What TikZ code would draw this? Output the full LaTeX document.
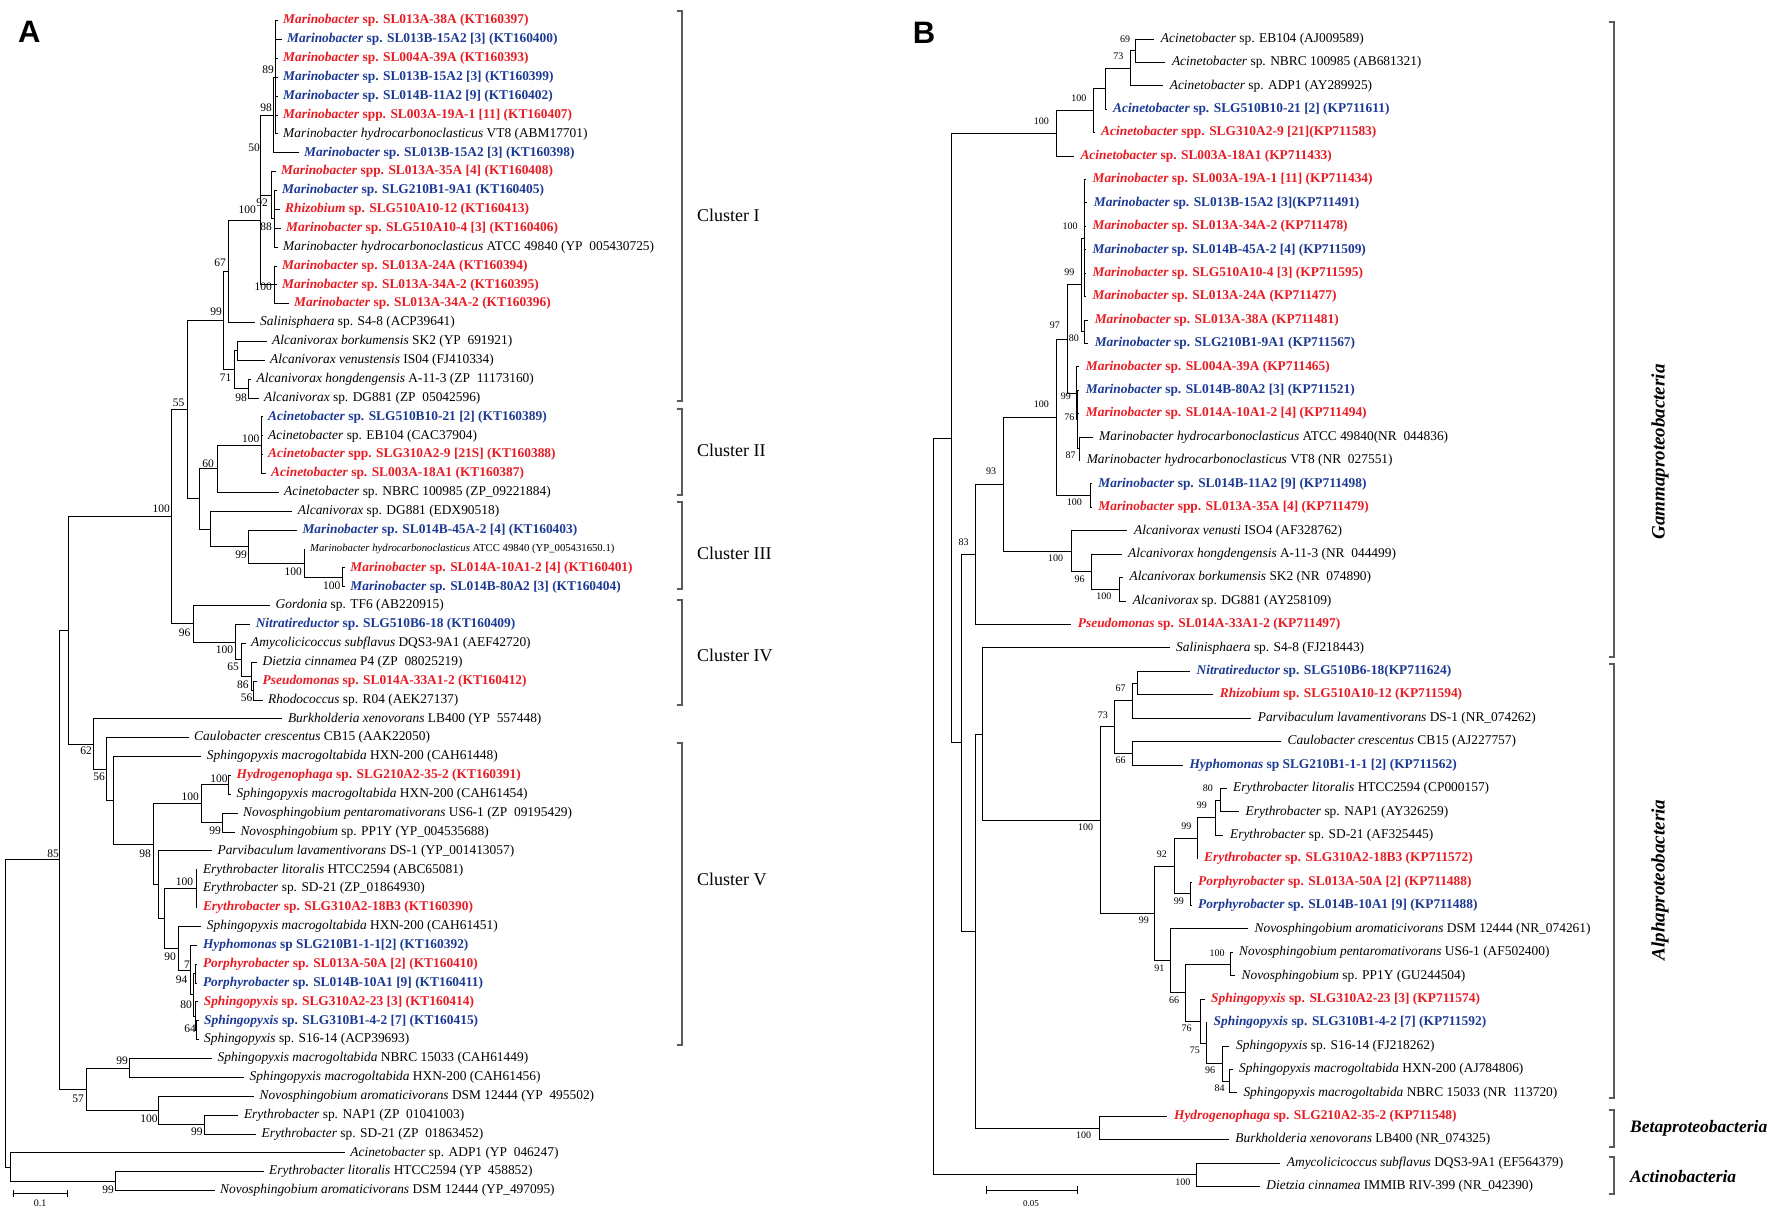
\documentclass[tikz,border=0pt]{standalone}
\usepackage{fontspec}
\setmainfont{Liberation Serif}
\newfontfamily\lsans{Liberation Sans}
\usetikzlibrary{calc}
\definecolor{cr}{RGB}{232,28,36}
\definecolor{cb}{RGB}{28,58,148}
\definecolor{brkc}{RGB}{90,90,90}
\newcommand\txfont{\fontsize{13.4}{16}\selectfont}
\newcommand\smfont{\fontsize{10.7}{12}\selectfont}
\newcommand\bsAfont{\fontsize{11.5}{12}\selectfont}
\newcommand\bsBfont{\fontsize{10}{11}\selectfont}
\newcounter{bsn}
\tikzset{
  br/.style={line width=1pt,line cap=rect},
  brk/.style={line width=1.1pt,draw=brkc},
  tx/.style={anchor=west,inner sep=0pt,font=\txfont},
  bsA/.style={anchor=east,inner sep=0pt,font=\bsAfont},
  bsB/.style={anchor=east,inner sep=0pt,font=\bsBfont},
  clab/.style={anchor=west,inner sep=0pt,font=\fontsize{18}{20}\selectfont},
  plab/.style={inner sep=0pt,font=\lsans\bfseries\fontsize{31}{32}\selectfont},
}
% taxon, black
\newcommand\tk[5]{\coordinate (#1) at ({#2-\gap},{\ry{#3}});
  \node[tx] (#1l) at (#2,{\ry{#3}}) {\textit{#4} #5};}
% taxon, coloured bold
\newcommand\tc[6]{\coordinate (#1) at ({#2-\gap},{\ry{#3}});
  \node[tx,text=#4,font=\txfont\bfseries] (#1l) at (#2,{\ry{#3}}) {\textit{#5} #6};}
% internal node: name, x, first child, last child
\newcommand\nd[4]{%
  \path let \p1=(#3), \p2=(#4) in (#2pt,{0.5*(\y1+\y2)}) coordinate (#1);
  \draw[br] (#1 |- #3) -- (#1 |- #4);
  \draw[br] (#1 |- #3) -- (#3);
  \draw[br] (#1 |- #4) -- (#4);}
% extra (middle) child
\newcommand\brc[2]{\draw[br] (#1 |- #2) -- (#2);}
\newcommand\bsa[3]{\stepcounter{bsn}\node[bsA] (bs\thebsn) at (#1,#2) {#3};}
\newcommand\bsb[3]{\stepcounter{bsn}\node[bsB] (bs\thebsn) at (#1,#2) {#3};}
\newcommand\brk[3]{\draw[brk] ({#1-5},#2) -- (#1,#2) -- (#1,#3) -- ({#1-5},#3);}
\begin{document}
\begin{tikzpicture}[x=1pt,y=-1pt]
\useasboundingbox (0,0) rectangle (1772,1213);
\fill[white] (0,0) rectangle (1772,1213);
%================ PANEL A =================
\node[plab] (pA) at (29.3,32.3) {A};
\def\ry#1{20.7+(#1-1)*18.87}\def\gap{6}
\tc{a1}{283}{1}{cr}{Marinobacter}{sp. SL013A-38A (KT160397)}
\tc{a2}{287}{2}{cb}{Marinobacter}{sp. SL013B-15A2 [3] (KT160400)}
\tc{a3}{283}{3}{cr}{Marinobacter}{sp. SL004A-39A (KT160393)}
\tc{a4}{283}{4}{cb}{Marinobacter}{sp. SL013B-15A2 [3] (KT160399)}
\tc{a5}{283}{5}{cb}{Marinobacter}{sp. SL014B-11A2 [9] (KT160402)}
\tc{a6}{283}{6}{cr}{Marinobacter}{spp. SL003A-19A-1 [11] (KT160407)}
\tk{a7}{283}{7}{Marinobacter hydrocarbonoclasticus}{VT8 (ABM17701)}
\tc{a8}{304}{8}{cb}{Marinobacter}{sp. SL013B-15A2 [3] (KT160398)}
\tc{a9}{281}{9}{cr}{Marinobacter}{spp. SL013A-35A [4] (KT160408)}
\tc{a10}{282}{10}{cb}{Marinobacter}{sp. SLG210B1-9A1 (KT160405)}
\tc{a11}{285}{11}{cr}{Rhizobium}{sp. SLG510A10-12 (KT160413)}
\tc{a12}{286}{12}{cr}{Marinobacter}{sp. SLG510A10-4 [3] (KT160406)}
\tk{a13}{283}{13}{Marinobacter hydrocarbonoclasticus}{ATCC 49840 (YP\ \ 005430725)}
\tc{a14}{282}{14}{cr}{Marinobacter}{sp. SL013A-24A (KT160394)}
\tc{a15}{282}{15}{cr}{Marinobacter}{sp. SL013A-34A-2 (KT160395)}
\tc{a16}{294}{16}{cr}{Marinobacter}{sp. SL013A-34A-2 (KT160396)}
\tk{a17}{260}{17}{Salinisphaera}{sp. S4-8 (ACP39641)}
\tk{a18}{272}{18}{Alcanivorax borkumensis}{SK2 (YP\ \ 691921)}
\tk{a19}{270}{19}{Alcanivorax venustensis}{IS04 (FJ410334)}
\tk{a20}{256.4}{20}{Alcanivorax hongdengensis}{A-11-3 (ZP\ \ 11173160)}
\tk{a21}{264}{21}{Alcanivorax}{sp. DG881 (ZP\ \ 05042596)}
\tc{a22}{268}{22}{cb}{Acinetobacter}{sp. SLG510B10-21 [2] (KT160389)}
\tk{a23}{268}{23}{Acinetobacter}{sp. EB104 (CAC37904)}
\tc{a24}{268}{24}{cr}{Acinetobacter}{spp. SLG310A2-9 [21S] (KT160388)}
\tc{a25}{271}{25}{cr}{Acinetobacter}{sp. SL003A-18A1 (KT160387)}
\tk{a26}{284}{26}{Acinetobacter}{sp. NBRC 100985 (ZP\_09221884)}
\tk{a27}{297.7}{27}{Alcanivorax}{sp. DG881 (EDX90518)}
\tc{a28}{302.3}{28}{cb}{Marinobacter}{sp. SL014B-45A-2 [4] (KT160403)}
\coordinate (a29) at (304,{\ry{29}});
\node[tx,font=\smfont] (a29l) at (310,{\ry{29}}) {\textit{Marinobacter hydrocarbonoclasticus} ATCC 49840 (YP\_005431650.1)};
\tc{a30}{350.2}{30}{cr}{Marinobacter}{sp. SL014A-10A1-2 [4] (KT160401)}
\tc{a31}{350.2}{31}{cb}{Marinobacter}{sp. SL014B-80A2 [3] (KT160404)}
\tk{a32}{275.5}{32}{Gordonia}{sp. TF6 (AB220915)}
\tc{a33}{255.6}{33}{cb}{Nitratireductor}{sp. SLG510B6-18 (KT160409)}
\tk{a34}{251}{34}{Amycolicicoccus subflavus}{DQS3-9A1 (AEF42720)}
\tk{a35}{262.5}{35}{Dietzia cinnamea}{P4 (ZP\ \ 08025219)}
\tc{a36}{262.5}{36}{cr}{Pseudomonas}{sp. SL014A-33A1-2 (KT160412)}
\tk{a37}{268}{37}{Rhodococcus}{sp. R04 (AEK27137)}
\tk{a38}{287.8}{38}{Burkholderia xenovorans}{LB400 (YP\ \ 557448)}
\tk{a39}{194}{39}{Caulobacter crescentus}{CB15 (AAK22050)}
\tk{a40}{206.7}{40}{Sphingopyxis macrogoltabida}{HXN-200 (CAH61448)}
\tc{a41}{236.5}{41}{cr}{Hydrogenophaga}{sp. SLG210A2-35-2 (KT160391)}
\tk{a42}{236.5}{42}{Sphingopyxis macrogoltabida}{HXN-200 (CAH61454)}
\tk{a43}{243}{43}{Novosphingobium pentaromativorans}{US6-1 (ZP\ \ 09195429)}
\tk{a44}{240.3}{44}{Novosphingobium}{sp. PP1Y (YP\_004535688)}
\tk{a45}{217.4}{45}{Parvibaculum lavamentivorans}{DS-1 (YP\_001413057)}
\tk{a46}{202.8}{46}{Erythrobacter litoralis}{HTCC2594 (ABC65081)}
\tk{a47}{202.8}{47}{Erythrobacter}{sp. SD-21 (ZP\_01864930)}
\tc{a48}{202.8}{48}{cr}{Erythrobacter}{sp. SLG310A2-18B3 (KT160390)}
\tk{a49}{206.7}{49}{Sphingopyxis macrogoltabida}{HXN-200 (CAH61451)}
\tc{a50}{202.8}{50}{cb}{Hyphomonas}{sp SLG210B1-1-1[2] (KT160392)}
\tc{a51}{202.8}{51}{cr}{Porphyrobacter}{sp. SL013A-50A [2] (KT160410)}
\tc{a52}{202.8}{52}{cb}{Porphyrobacter}{sp. SL014B-10A1 [9] (KT160411)}
\tc{a53}{203.6}{53}{cr}{Sphingopyxis}{sp. SLG310A2-23 [3] (KT160414)}
\tc{a54}{204}{54}{cb}{Sphingopyxis}{sp. SLG310B1-4-2 [7] (KT160415)}
\tk{a55}{204}{55}{Sphingopyxis}{sp. S16-14 (ACP39693)}
\tk{a56}{217.4}{56}{Sphingopyxis macrogoltabida}{NBRC 15033 (CAH61449)}
\tk{a57}{249.5}{57}{Sphingopyxis macrogoltabida}{HXN-200 (CAH61456)}
\tk{a58}{259.5}{58}{Novosphingobium aromaticivorans}{DSM 12444 (YP\ \ 495502)}
\tk{a59}{243.8}{59}{Erythrobacter}{sp. NAP1 (ZP\ \ 01041003)}
\tk{a60}{261.4}{60}{Erythrobacter}{sp. SD-21 (ZP\ \ 01863452)}
\tk{a61}{350.2}{61}{Acinetobacter}{sp. ADP1 (YP\ \ 046247)}
\tk{a62}{269}{62}{Erythrobacter litoralis}{HTCC2594 (YP\ \ 458852)}
\tk{a63}{220}{63}{Novosphingobium aromaticivorans}{DSM 12444 (YP\_497095)}
% internal nodes A
\nd{c89}{275.5}{a1}{a7}\brc{c89}{a2}\brc{c89}{a3}\brc{c89}{a4}\brc{c89}{a5}\brc{c89}{a6}
\nd{n98}{273.6}{c89}{a8}
\nd{n88}{274.8}{a10}{a13}\brc{n88}{a11}\brc{n88}{a12}
\nd{n92}{271}{a9}{n88}
\nd{n50}{260}{n98}{n92}
\nd{c14}{274.8}{a14}{a16}\brc{c14}{a15}
\nd{nX}{260}{n50}{c14}
\nd{n67}{228.5}{nX}{a17}
\nd{n1819}{237}{a18}{a19}
\nd{n2021}{248.8}{a20}{a21}
\nd{n71}{234}{n1819}{n2021}
\nd{n99}{223}{n67}{n71}
\nd{nac}{261.5}{a22}{a25}\brc{nac}{a23}\brc{nac}{a24}
\nd{n60}{217}{nac}{a26}
\nd{n3031}{342.5}{a30}{a31}
\nd{n100b}{304}{a29}{n3031}
\nd{n99c}{248.8}{a28}{n100b}
\nd{nc3}{210.5}{a27}{n99c}
\nd{nY}{199}{n60}{nc3}
\nd{n55}{187}{n99}{nY}
\nd{n56}{253}{a36}{a37}
\nd{n86}{251.8}{a35}{n56}
\nd{n65}{241.9}{a34}{n86}
\nd{n100d}{235.4}{a33}{n65}
\nd{n96}{193}{a32}{n100d}
\nd{nbig}{171}{n55}{n96}
\nd{n100f}{228.9}{a41}{a42}
\nd{n99f}{222}{a43}{a44}
\nd{n100e}{201}{n100f}{n99f}
\nd{n100g}{196}{a46}{a48}\brc{n100g}{a47}
\nd{nN}{196}{a54}{a55}
\nd{nM}{195.2}{a53}{nN}
\nd{nL}{195.2}{a51}{a52}
\nd{nK}{193}{nL}{nM}
\nd{nJ}{190.2}{a50}{nK}
\nd{n90}{178}{a49}{nJ}
\nd{nH}{164.6}{n100g}{n90}
\nd{nG}{158.8}{a45}{nH}
\nd{n98e}{153}{n100e}{nG}
\nd{n113}{113}{a40}{n98e}
\nd{n56b}{106}{a39}{n113}
\nd{n62}{93}{a38}{n56b}
\nd{nZ}{68}{nbig}{n62}
\nd{n99h}{129.4}{a56}{a57}
\nd{n99i}{204.7}{a59}{a60}
\nd{n100h}{158.8}{a58}{n99i}
\nd{n57}{86}{n99h}{n100h}
\nd{n85}{59}{nZ}{n57}
\nd{n99j}{115.6}{a62}{a63}
\nd{nR}{10.7}{a61}{n99j}
\nd{rootA}{5.7}{n85}{nR}
% bootstrap A
\bsa{274}{70}{89}\bsa{272}{108}{98}\bsa{260}{148}{50}\bsa{268}{203}{92}
\bsa{272}{227}{88}\bsa{256}{210}{100}\bsa{226}{262.7}{67}\bsa{272}{287}{100}
\bsa{222}{311.7}{99}\bsa{231.5}{378}{71}\bsa{247}{397.7}{98}\bsa{259.5}{438.3}{100}
\bsa{214}{463.3}{60}\bsa{184.5}{402.7}{55}\bsa{170}{509}{100}\bsa{247}{555}{99}
\bsa{302}{571.7}{100}\bsa{340.6}{586}{100}\bsa{190.6}{632.7}{96}\bsa{233.4}{650}{100}
\bsa{239}{666.7}{65}\bsa{248.8}{685}{86}\bsa{252.6}{697.3}{56}\bsa{92}{750.7}{62}
\bsa{105}{776.7}{56}\bsa{227.7}{778.3}{100}\bsa{199}{796.7}{100}\bsa{221}{830.7}{99}
\bsa{151}{853.3}{98}\bsa{59}{853.3}{85}\bsa{193.3}{881.7}{100}\bsa{176}{956.7}{90}
\bsa{190}{965}{7}\bsa{187.5}{979.3}{94}\bsa{192}{1005}{80}\bsa{196}{1029}{64}
\bsa{128}{1060.7}{99}\bsa{84}{1098.3}{57}\bsa{157.7}{1118.3}{100}\bsa{202.8}{1131.7}{99}
\bsa{114}{1190}{99}
% clusters
\brk{682}{11}{401}\brk{682}{409}{495}\brk{682}{502}{589}\brk{682}{600}{705}\brk{682}{743}{1045}
\node[clab] (cl1) at (697,215) {Cluster I};
\node[clab] (cl2) at (697,450) {Cluster II};
\node[clab] (cl3) at (697,553) {Cluster III};
\node[clab] (cl4) at (697,655) {Cluster IV};
\node[clab] (cl5) at (697,879) {Cluster V};
% scale bar A
\coordinate (sa1) at (13.4,1193.3); \coordinate (sa2) at (67,1193.3);
\draw[line width=0.9pt] (sa1) -- (sa2) (13.4,1189.5) -- (13.4,1197) (67,1189.5) -- (67,1197);
\node[inner sep=0pt,font=\fontsize{10}{11}\selectfont] (sal) at (40,1203) {0.1};
%================ PANEL B =================
\node[plab] (pB) at (924,33) {B};
\def\ry#1{39+(#1-1)*23.42}\def\gap{7}
\tk{b1}{1160.7}{1}{Acinetobacter}{sp. EB104 (AJ009589)}
\tk{b2}{1171.8}{2}{Acinetobacter}{sp. NBRC 100985 (AB681321)}
\tk{b3}{1169.6}{3}{Acinetobacter}{sp. ADP1 (AY289925)}
\tc{b4}{1113}{4}{cb}{Acinetobacter}{sp. SLG510B10-21 [2] (KP711611)}
\tc{b5}{1101}{5}{cr}{Acinetobacter}{spp. SLG310A2-9 [21](KP711583)}
\tc{b6}{1080.3}{6}{cr}{Acinetobacter}{sp. SL003A-18A1 (KP711433)}
\tc{b7}{1092.4}{7}{cr}{Marinobacter}{sp. SL003A-19A-1 [11] (KP711434)}
\tc{b8}{1093.7}{8}{cb}{Marinobacter}{sp. SL013B-15A2 [3](KP711491)}
\tc{b9}{1092.4}{9}{cr}{Marinobacter}{sp. SL013A-34A-2 (KP711478)}
\tc{b10}{1092.4}{10}{cb}{Marinobacter}{sp. SL014B-45A-2 [4] (KP711509)}
\tc{b11}{1092.4}{11}{cr}{Marinobacter}{sp. SLG510A10-4 [3] (KP711595)}
\tc{b12}{1092.4}{12}{cr}{Marinobacter}{sp. SL013A-24A (KP711477)}
\tc{b13}{1094.6}{13}{cr}{Marinobacter}{sp. SL013A-38A (KP711481)}
\tc{b14}{1094.6}{14}{cb}{Marinobacter}{sp. SLG210B1-9A1 (KP711567)}
\tc{b15}{1085.7}{15}{cr}{Marinobacter}{sp. SL004A-39A (KP711465)}
\tc{b16}{1085.7}{16}{cb}{Marinobacter}{sp. SL014B-80A2 [3] (KP711521)}
\tc{b17}{1085.7}{17}{cr}{Marinobacter}{sp. SL014A-10A1-2 [4] (KP711494)}
\tk{b18}{1099}{18}{Marinobacter hydrocarbonoclasticus}{ATCC 49840(NR\ \ 044836)}
\tk{b19}{1086.6}{19}{Marinobacter hydrocarbonoclasticus}{VT8 (NR\ \ 027551)}
\tc{b20}{1098.2}{20}{cb}{Marinobacter}{sp. SL014B-11A2 [9] (KP711498)}
\tc{b21}{1098.2}{21}{cr}{Marinobacter}{spp. SL013A-35A [4] (KP711479)}
\tk{b22}{1133.9}{22}{Alcanivorax venusti}{ISO4 (AF328762)}
\tk{b23}{1128}{23}{Alcanivorax hongdengensis}{A-11-3 (NR\ \ 044499)}
\tk{b24}{1129.4}{24}{Alcanivorax borkumensis}{SK2 (NR\ \ 074890)}
\tk{b25}{1132.6}{25}{Alcanivorax}{sp. DG881 (AY258109)}
\tc{b26}{1077.7}{26}{cr}{Pseudomonas}{sp. SL014A-33A1-2 (KP711497)}
\tk{b27}{1176}{27}{Salinisphaera}{sp. S4-8 (FJ218443)}
\tc{b28}{1196.4}{28}{cb}{Nitratireductor}{sp. SLG510B6-18(KP711624)}
\tc{b29}{1219.6}{29}{cr}{Rhizobium}{sp. SLG510A10-12 (KP711594)}
\tk{b30}{1257.6}{30}{Parvibaculum lavamentivorans}{DS-1 (NR\_074262)}
\tk{b31}{1287.5}{31}{Caulobacter crescentus}{CB15 (AJ227757)}
\tc{b32}{1189.3}{32}{cb}{Hyphomonas}{sp SLG210B1-1-1 [2] (KP711562)}
\tk{b33}{1233}{33}{Erythrobacter litoralis}{HTCC2594 (CP000157)}
\tk{b34}{1245.5}{34}{Erythrobacter}{sp. NAP1 (AY326259)}
\tk{b35}{1229.9}{35}{Erythrobacter}{sp. SD-21 (AF325445)}
\tc{b36}{1204}{36}{cr}{Erythrobacter}{sp. SLG310A2-18B3 (KP711572)}
\tc{b37}{1198}{37}{cr}{Porphyrobacter}{sp. SL013A-50A [2] (KP711488)}
\tc{b38}{1198}{38}{cb}{Porphyrobacter}{sp. SL014B-10A1 [9] (KP711488)}
\tk{b39}{1254.4}{39}{Novosphingobium aromaticivorans}{DSM 12444 (NR\_074261)}
\tk{b40}{1239}{40}{Novosphingobium pentaromativorans}{US6-1 (AF502400)}
\tk{b41}{1241.4}{41}{Novosphingobium}{sp. PP1Y (GU244504)}
\tc{b42}{1211}{42}{cr}{Sphingopyxis}{sp. SLG310A2-23 [3] (KP711574)}
\tc{b43}{1213.5}{43}{cb}{Sphingopyxis}{sp. SLG310B1-4-2 [7] (KP711592)}
\tk{b44}{1235.9}{44}{Sphingopyxis}{sp. S16-14 (FJ218262)}
\tk{b45}{1239}{45}{Sphingopyxis macrogoltabida}{HXN-200 (AJ784806)}
\tk{b46}{1243.3}{46}{Sphingopyxis macrogoltabida}{NBRC 15033 (NR\ \ 113720)}
\tc{b47}{1173.9}{47}{cr}{Hydrogenophaga}{sp. SLG210A2-35-2 (KP711548)}
\tk{b48}{1235.2}{48}{Burkholderia xenovorans}{LB400 (NR\_074325)}
\tk{b49}{1286.7}{49}{Amycolicicoccus subflavus}{DQS3-9A1 (EF564379)}
\tk{b50}{1266.2}{50}{Dietzia cinnamea}{IMMIB RIV-399 (NR\_042390)}
% internal nodes B
\nd{bn69}{1135.7}{b1}{b2}
\nd{bn73}{1130.3}{bn69}{b3}
\nd{bn4}{1105.8}{bn73}{b4}
\nd{bac1}{1093.7}{bn4}{b5}
\nd{bac2}{1056.7}{bac1}{b6}
\nd{bm100a}{1084.8}{b7}{b12}\brc{bm100a}{b8}\brc{bm100a}{b9}\brc{bm100a}{b10}\brc{bm100a}{b11}
\nd{bn80}{1084.8}{b13}{b14}
\nd{bm99}{1081.2}{bm100a}{bn80}
\nd{bn87}{1079}{b18}{b19}
\nd{bn76}{1077.5}{b16}{bn87}\brc{bn76}{b17}
\nd{bn99b}{1076.8}{b15}{bn76}
\nd{bm97}{1067}{bm99}{bn99b}
\nd{b2021}{1090.2}{b20}{b21}
\nd{bm100}{1056.7}{bm97}{b2021}
\nd{bn100c}{1119.6}{b24}{b25}
\nd{bn96}{1091.5}{b23}{bn100c}
\nd{balc}{1071.4}{b22}{bn96}
\nd{bn93}{1003.1}{bm100}{balc}
\nd{bnp}{975}{bn93}{b26}
\nd{b2829}{1137}{b28}{b29}
\nd{bn67}{1132.6}{b2829}{b30}
\nd{bn66}{1132.6}{b31}{b32}
\nd{bn73b}{1114.7}{bn67}{bn66}
\nd{bn80b}{1220.5}{b33}{b34}
\nd{bn99z}{1215.2}{bn80b}{b35}
\nd{bn99y}{1197.3}{bn99z}{b36}
\nd{bn99p}{1190.6}{b37}{b38}
\nd{bn92}{1174}{bn99y}{bn99p}
\nd{bn100n}{1230.9}{b40}{b41}
\nd{bn84}{1229.7}{b45}{b46}
\nd{bn96b}{1222.8}{b44}{bn84}
\nd{bn75}{1206.1}{b43}{bn96b}
\nd{bn76b}{1200}{b42}{bn75}
\nd{bn66b}{1185.6}{bn100n}{bn76b}
\nd{bn91}{1170.8}{b39}{bn66b}
\nd{bn99x}{1154.9}{bn92}{bn91}
\nd{balpha}{1100}{bn73b}{bn99x}
\nd{bns}{982}{b27}{balpha}
\nd{bbeta}{1099.5}{b47}{b48}
\nd{bnP}{975.5}{bns}{bbeta}
\nd{bnQ}{961.6}{bnp}{bnP}
\nd{bg1}{951.8}{bac2}{bnQ}
\nd{bact}{1196.8}{b49}{b50}
\nd{broot}{933.3}{bg1}{bact}
% bootstrap B
\bsb{1130.3}{39}{69}\bsb{1123.6}{56.7}{73}\bsb{1086.6}{98.3}{100}\bsb{1049}{121}{100}
\bsb{1077.7}{226}{100}\bsb{1074.5}{272.7}{99}\bsb{1060}{325}{97}\bsb{1079}{338.3}{80}
\bsb{1071}{396}{99}\bsb{1049}{404.3}{100}\bsb{1074.5}{417.3}{76}\bsb{1075.9}{455.7}{87}
\bsb{996.4}{471.7}{93}\bsb{1082}{502.3}{100}\bsb{968.7}{542.3}{83}\bsb{1063.4}{558.3}{100}
\bsb{1084.8}{579.3}{96}\bsb{1111.6}{596.7}{100}\bsb{1125.9}{688.3}{67}\bsb{1108}{715}{73}
\bsb{1125.9}{760.7}{66}\bsb{1093.3}{827.3}{100}\bsb{1213}{788.3}{80}\bsb{1207}{805.7}{99}
\bsb{1191.5}{826.7}{99}\bsb{1167}{854.3}{92}\bsb{1184}{901.7}{99}\bsb{1149}{920}{99}
\bsb{1224.7}{953.3}{100}\bsb{1164.6}{968.3}{91}\bsb{1179.4}{1000}{66}\bsb{1191.8}{1028.3}{76}
\bsb{1200}{1050}{75}\bsb{1215.4}{1070}{96}\bsb{1224.7}{1088.3}{84}\bsb{1091.4}{1135}{100}
\bsb{1190.6}{1182.7}{100}
% groups
\brk{1614}{22}{657}\brk{1614}{664}{1098}\brk{1614}{1110}{1147}\brk{1614}{1157}{1194}
\node[rotate=90,inner sep=0pt,font=\fontsize{19}{20}\selectfont\bfseries\itshape] (gam) at (1660,452) {Gammaproteobacteria};
\node[rotate=90,inner sep=0pt,font=\fontsize{19}{20}\selectfont\bfseries\itshape] (alp) at (1660,880) {Alphaproteobacteria};
\node[anchor=west,inner sep=0pt,font=\fontsize{17.5}{19}\selectfont\bfseries\itshape] (bet) at (1630,1128) {Betaproteobacteria};
\node[anchor=west,inner sep=0pt,font=\fontsize{17.5}{19}\selectfont\bfseries\itshape] (act) at (1630,1177) {Actinobacteria};
% scale bar B
\coordinate (sb1) at (986,1190); \coordinate (sb2) at (1077.8,1190);
\draw[line width=0.9pt] (sb1) -- (sb2) (986,1186) -- (986,1194) (1077.8,1186) -- (1077.8,1194);
\node[inner sep=0pt,font=\fontsize{9}{10}\selectfont] (sbl) at (1031,1204) {0.05};
\end{tikzpicture}
\end{document}
